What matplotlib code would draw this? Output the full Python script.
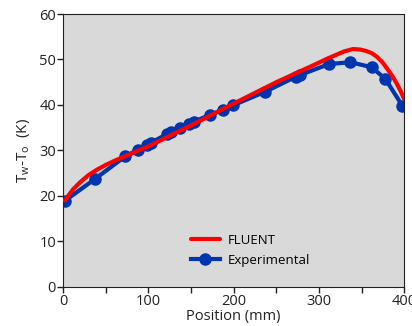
import matplotlib.pyplot as plt

# --- data ---
fluent_x = [2, 6, 12, 20, 30, 40, 50, 60, 80, 100, 150, 200, 250, 300, 310, 320, 330, 340,
            348, 355, 362, 368, 374, 380, 386, 391, 396, 400]
fluent_y = [19.0, 20.0, 21.5, 23.0, 24.6, 25.8, 26.8, 27.7, 29.3, 30.9, 35.5, 40.3, 45.0, 49.3,
            50.2, 51.0, 51.8, 52.3, 52.2, 51.9, 51.4, 50.6, 49.5, 48.0, 46.4, 44.8, 43.0, 41.3]

exp_x = [2, 38, 73, 88, 99, 103, 122, 127, 137, 148, 153, 172, 187, 199, 237, 273, 278,
         312, 337, 362, 378, 398]
exp_y = [18.9, 23.8, 28.7, 30.2, 31.3, 31.7, 33.6, 34.0, 35.0, 35.9, 36.3, 37.8, 38.9, 39.9,
         42.9, 46.2, 46.6, 49.0, 49.4, 48.3, 45.7, 39.8]

plt.rcParams['font.family'] = ['Open Sans', 'DejaVu Sans']
plt.rcParams['mathtext.default'] = 'regular'

fig = plt.figure(figsize=(4.12, 3.26), dpi=100)
ax = fig.add_axes([0.153, 0.12, 0.828, 0.837])
ax.set_facecolor('#d9d9d9')

ax.plot(fluent_x, fluent_y, color='#ff0000', lw=3, label='FLUENT', zorder=3,
        solid_joinstyle='round', solid_capstyle='round')
ax.plot(exp_x, exp_y, color='#0035b0', lw=3, marker='o', ms=8, label='Experimental', zorder=2)

ax.set_xlim(0, 400)
ax.set_ylim(0, 60)
ax.set_xticks([0, 100, 200, 300, 400])
ax.set_xticks([50, 150, 250, 350], minor=True)
ax.set_yticks(range(0, 61, 10))
ax.tick_params(direction='out', length=4, width=1, labelsize=10.5, colors='#222222', pad=1)
ax.tick_params(which='minor', direction='out', length=4, width=1, colors='#222222')
for s in ax.spines.values():
    s.set_color('#222222')

ax.set_xlabel('Position (mm)', fontsize=10.5, color='#222222', labelpad=0)
ax.set_ylabel('T$_w$-T$_o$  (K)', fontsize=11, color='#222222', labelpad=5)

ax.legend(loc='lower left', bbox_to_anchor=(0.34, 0.03), frameon=False, fontsize=9.5,
          handlelength=2.2, labelspacing=0.55, handletextpad=0.6)

fig.savefig('out.png', dpi=100)
